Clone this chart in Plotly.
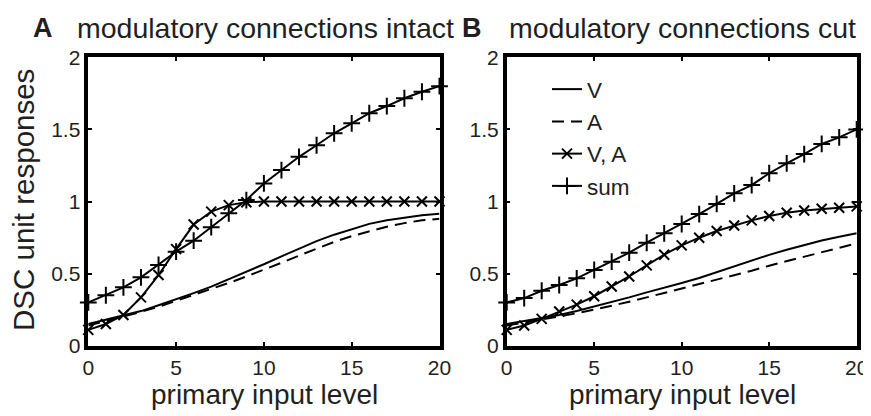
import plotly.graph_objects as go

# The page body has an 8px margin; the figure is sized to fill the rest of the window.
OFF = 8
W, H = 871 - OFF, 416 - OFF
FONT = "Liberation Sans, Arial, Helvetica, sans-serif"
TXT = "#231f20"

x_levels = list(range(21))

# Panel A: modulatory connections intact
a_V = [0.15, 0.18, 0.21, 0.24, 0.28, 0.32, 0.365, 0.41, 0.46, 0.51, 0.565,
       0.62, 0.675, 0.725, 0.77, 0.81, 0.845, 0.87, 0.89, 0.905, 0.915]
a_A = [0.14, 0.17, 0.20, 0.235, 0.27, 0.31, 0.35, 0.39, 0.435, 0.48, 0.525,
       0.575, 0.625, 0.675, 0.72, 0.76, 0.795, 0.825, 0.85, 0.87, 0.88]
a_VA = [0.11, 0.15, 0.213, 0.335, 0.49, 0.67, 0.84, 0.93, 0.975, 0.995, 1.0,
        1.0, 1.0, 1.0, 1.0, 1.0, 1.0, 1.0, 1.0, 1.0, 1.0]
a_sum = [0.30, 0.35, 0.405, 0.474, 0.56, 0.652, 0.728, 0.822, 0.918, 1.01, 1.125,
         1.218, 1.31, 1.39, 1.473, 1.542, 1.612, 1.662, 1.716, 1.761, 1.80]

# Panel B: modulatory connections cut
b_V = [0.15, 0.17, 0.19, 0.213, 0.24, 0.27, 0.30, 0.335, 0.37, 0.40, 0.435,
       0.47, 0.51, 0.555, 0.595, 0.63, 0.665, 0.70, 0.73, 0.755, 0.78]
b_A = [0.14, 0.16, 0.18, 0.20, 0.225, 0.25, 0.275, 0.305, 0.335, 0.365, 0.398,
       0.425, 0.455, 0.485, 0.52, 0.555, 0.585, 0.62, 0.65, 0.68, 0.71]
b_VA = [0.11, 0.14, 0.186, 0.237, 0.285, 0.343, 0.41, 0.48, 0.557, 0.631, 0.696,
        0.749, 0.795, 0.834, 0.869, 0.899, 0.922, 0.938, 0.95, 0.957, 0.966]
b_sum = [0.30, 0.33, 0.381, 0.421, 0.467, 0.525, 0.583, 0.645, 0.714, 0.779, 0.844,
         0.913, 0.983, 1.057, 1.114, 1.196, 1.265, 1.329, 1.399, 1.445, 1.50]

x_ticks = [0, 5, 10, 15, 20]
y_ticks = [0, 0.5, 1, 1.5, 2]
y_ticktext = ["0", "0.5", "1", "1.5", "2"]

series_names = ["V", "A", "V, A", "sum"]
panel_titles = ["modulatory connections intact", "modulatory connections cut"]
panel_letters = ["A", "B"]
x_title = "primary input level"
y_title = "DSC unit responses"

fig = go.Figure()

def add_panel(vals, xa, ya, show):
    V, A, VA, S = vals
    common = dict(x=x_levels, xaxis=xa, yaxis=ya, cliponaxis=False, showlegend=show)
    fig.add_trace(go.Scatter(y=V, name=series_names[0], mode="lines",
                             line=dict(color="black", width=2), **common))
    fig.add_trace(go.Scatter(y=A, name=series_names[1], mode="lines",
                             line=dict(color="black", width=2, dash="12px,7px"), **common))
    fig.add_trace(go.Scatter(y=VA, name=series_names[2], mode="lines+markers",
                             line=dict(color="black", width=2),
                             marker=dict(symbol="x-thin", size=10, color="black",
                                         line=dict(color="black", width=2)), **common))
    fig.add_trace(go.Scatter(y=S, name=series_names[3], mode="lines+markers",
                             line=dict(color="black", width=2),
                             marker=dict(symbol="cross-thin", size=12, color="black",
                                         line=dict(color="black", width=2)), **common))

add_panel((a_V, a_A, a_VA, a_sum), "x", "y", False)
add_panel((b_V, b_A, b_VA, b_sum), "x2", "y2", True)

# helpers: convert window pixel positions to paper fractions
def pxx(px):
    return (px - OFF) / W

def py(px):
    return 1 - (px - OFF) / H

ydom = [py(345.7), py(57.3)]
xdomA = [pxx(88.3), pxx(439.5)]
xdomB = [pxx(506.7), pxx(856.7)]

def xaxis(dom, anchor):
    return dict(domain=dom, anchor=anchor, range=[0, 20], tickvals=x_ticks,
                ticks="inside", ticklen=4, tickwidth=2, tickcolor="black",
                showline=True, linewidth=3.5, linecolor="black", mirror="ticks",
                showgrid=False, zeroline=False, automargin=False,
                tickfont=dict(size=21, family=FONT, color=TXT))

def yaxis(anchor):
    return dict(domain=ydom, anchor=anchor, range=[0, 2], tickvals=y_ticks,
                ticktext=y_ticktext,
                ticks="inside", ticklen=4, tickwidth=2, tickcolor="black",
                showline=True, linewidth=3.5, linecolor="black", mirror="ticks",
                showgrid=False, zeroline=False, automargin=False,
                tickfont=dict(size=21, family=FONT, color=TXT))

annotations = [
    dict(text="<b>A</b>", x=pxx(43), y=py(28), xanchor="center", yanchor="middle",
         font=dict(size=27, family=FONT, color=TXT)),
    dict(text=panel_titles[0], x=pxx(75), y=py(28), xanchor="left", yanchor="middle",
         font=dict(size=28.5, family=FONT, color=TXT)),
    dict(text="<b>B</b>", x=pxx(472), y=py(28), xanchor="center", yanchor="middle",
         font=dict(size=27, family=FONT, color=TXT)),
    dict(text=panel_titles[1], x=pxx(507), y=py(28), xanchor="left", yanchor="middle",
         font=dict(size=28.5, family=FONT, color=TXT)),
    dict(text=x_title, x=pxx(264), y=py(394), xanchor="center", yanchor="middle",
         font=dict(size=28, family=FONT, color=TXT)),
    dict(text=x_title, x=pxx(682), y=py(394), xanchor="center", yanchor="middle",
         font=dict(size=28, family=FONT, color=TXT)),
    dict(text=y_title, x=pxx(23), y=py(200), xanchor="center", yanchor="middle",
         textangle=-90, font=dict(size=29.5, family=FONT, color=TXT)),
]
for a in annotations:
    a.update(xref="paper", yref="paper", showarrow=False)

fig.update_layout(
    width=W, height=H,
    margin=dict(l=0, r=0, t=0, b=0, pad=0, autoexpand=False),
    paper_bgcolor="white", plot_bgcolor="white",
    xaxis=xaxis(xdomA, "y"), yaxis=yaxis("x"),
    xaxis2=xaxis(xdomB, "y2"), yaxis2=yaxis("x2"),
    annotations=annotations,
    legend=dict(x=pxx(547), y=py(68), xanchor="left", yanchor="top",
                bgcolor="rgba(0,0,0,0)", font=dict(size=22.5, family=FONT, color=TXT),
                itemwidth=30, tracegroupgap=0),
    font=dict(family=FONT, color=TXT),
)

fig.write_html("out.html")
